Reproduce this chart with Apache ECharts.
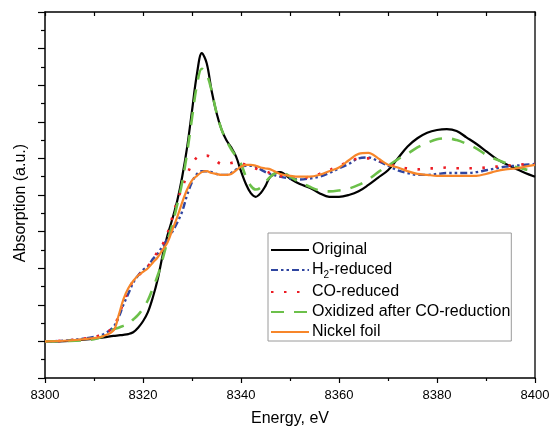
<!DOCTYPE html>
<html>
<head>
<meta charset="utf-8">
<script src="https://cdn.jsdelivr.net/npm/echarts@6/dist/echarts.min.js"></script>
<style>
  html, body { margin: 0; padding: 0; background: #fff; }
  #chart { width: 550px; height: 428px; }
</style>
</head>
<body>
<div id="chart"></div>
<script>
// energy grid, eV
const energy = [8300, 8305, 8310, 8312, 8314,
  8315, 8316, 8317, 8318, 8319, 8320, 8321, 8322, 8323, 8324, 8325, 8326, 8327, 8328, 8329, 8330,
  8331, 8332, 8333, 8334, 8335, 8336, 8337, 8338, 8339, 8340, 8341, 8342, 8343, 8344, 8345, 8346,
  8348, 8350, 8352, 8354, 8356, 8358, 8360, 8362, 8364, 8366, 8368, 8370, 8372, 8374, 8376, 8378,
  8380, 8382, 8384, 8386, 8388, 8390, 8392, 8394, 8396, 8398, 8400];

// normalized absorption
const original = [0, 0.003, 0.015, 0.022, 0.03,
  0.033, 0.036, 0.04, 0.05, 0.075, 0.11, 0.16, 0.24, 0.34, 0.47, 0.58, 0.67, 0.77, 0.90, 1.06, 1.26,
  1.46, 1.575, 1.52, 1.37, 1.25, 1.16, 1.10, 1.06, 1.01, 0.93, 0.86, 0.81, 0.79, 0.81, 0.85, 0.90,
  0.925, 0.89, 0.86, 0.84, 0.81, 0.79, 0.79, 0.80, 0.82, 0.855, 0.895, 0.935, 1.0, 1.065, 1.11, 1.14,
  1.155, 1.16, 1.15, 1.115, 1.08, 1.04, 1.0, 0.97, 0.945, 0.92, 0.90];

const h2Reduced = [0, 0.006, 0.025, 0.04, 0.08,
  0.13, 0.20, 0.26, 0.32, 0.36, 0.39, 0.41, 0.45, 0.48, 0.52, 0.56, 0.60, 0.65, 0.71, 0.80, 0.87,
  0.915, 0.93, 0.93, 0.925, 0.915, 0.91, 0.91, 0.92, 0.94, 0.955, 0.96, 0.96, 0.955, 0.94, 0.925, 0.915,
  0.90, 0.89, 0.885, 0.89, 0.90, 0.92, 0.945, 0.97, 1.0, 1.005, 0.985, 0.96, 0.935, 0.92, 0.91, 0.91,
  0.915, 0.92, 0.92, 0.92, 0.925, 0.935, 0.945, 0.955, 0.96, 0.965, 0.97];

const coReduced = [0, 0.006, 0.025, 0.04, 0.08,
  0.14, 0.21, 0.28, 0.33, 0.36, 0.38, 0.41, 0.45, 0.49, 0.53, 0.59, 0.68, 0.77, 0.84, 0.91, 0.97,
  1.005, 1.015, 1.015, 1.005, 0.985, 0.97, 0.97, 0.975, 0.98, 0.975, 0.965, 0.955, 0.945, 0.935, 0.93, 0.92,
  0.905, 0.89, 0.89, 0.90, 0.915, 0.935, 0.96, 0.98, 1.0, 1.0, 0.99, 0.97, 0.955, 0.945, 0.94, 0.945,
  0.946, 0.95, 0.946, 0.946, 0.946, 0.95, 0.955, 0.96, 0.964, 0.968, 0.97];

const oxidized = [0, 0.003, 0.012, 0.03, 0.065,
  0.075, 0.085, 0.095, 0.12, 0.145, 0.18, 0.225, 0.29, 0.36, 0.45, 0.55, 0.64, 0.75, 0.87, 1.03, 1.22,
  1.40, 1.49, 1.46, 1.37, 1.25, 1.16, 1.10, 1.05, 1.01, 0.97, 0.90, 0.85, 0.83, 0.84, 0.87, 0.90,
  0.93, 0.90, 0.87, 0.845, 0.825, 0.82, 0.825, 0.835, 0.855, 0.885, 0.925, 0.96, 0.995, 1.025, 1.06, 1.085,
  1.105, 1.11, 1.10, 1.08, 1.055, 1.02, 0.995, 0.975, 0.955, 0.94, 0.93];

const nickelFoil = [0, 0.005, 0.018, 0.03, 0.06,
  0.14, 0.23, 0.29, 0.33, 0.36, 0.38, 0.40, 0.43, 0.46, 0.50, 0.54, 0.61, 0.68, 0.76, 0.83, 0.88,
  0.905, 0.925, 0.93, 0.92, 0.915, 0.91, 0.91, 0.915, 0.935, 0.955, 0.965, 0.965, 0.96, 0.95, 0.945, 0.94,
  0.915, 0.905, 0.90, 0.90, 0.91, 0.93, 0.95, 0.99, 1.025, 1.03, 1.0, 0.965, 0.95, 0.93, 0.915, 0.91,
  0.905, 0.905, 0.905, 0.905, 0.905, 0.915, 0.93, 0.94, 0.945, 0.955, 0.965];

const names = ['Original', 'H2-reduced', 'CO-reduced', 'Oxidized after CO-reduction', 'Nickel foil'];

const font = 'Liberation Sans, Arial, sans-serif';

function pairs(vals) {
  return energy.map((e, i) => [e, vals[i]]);
}

function line(name, vals, color, width, dash) {
  return {
    name: name,
    type: 'line',
    data: pairs(vals),
    smooth: 0.35,
    showSymbol: false,
    symbol: 'none',
    animation: false,
    lineStyle: { color: color, width: width, type: dash || 'solid', cap: 'butt' },
    itemStyle: { color: color }
  };
}

const chart = echarts.init(document.getElementById('chart'));
chart.setOption({
  backgroundColor: '#fff',
  animation: false,
  grid: { left: 45, right: 15, top: 12, bottom: 50, outerBoundsMode: 'none', containLabel: false },
  legend: {
    orient: 'vertical',
    left: 268,
    top: 233,
    itemWidth: 38,
    itemHeight: 14,
    itemGap: 4,
    padding: [9, 1, 1, 2],
    borderColor: '#9a9a9a',
    borderWidth: 1,
    backgroundColor: '#fff',
    data: names,
    itemStyle: { opacity: 0 },
    formatter: function (n) {
      if (n === 'H2-reduced') return '{t|H}{s|2}{t|-reduced}';
      return '{t|' + n + '}';
    },
    textStyle: {
      fontFamily: font,
      fontSize: 16,
      color: '#000',
      padding: [0, 0, 0, -2],
      rich: {
        t: { fontFamily: font, fontSize: 16, color: '#000' },
        s: { fontFamily: font, fontSize: 10, color: '#000', verticalAlign: 'bottom', padding: [10, 0, 0, 0] }
      }
    }
  },
  xAxis: [{
    type: 'value',
    min: 8300,
    max: 8400,
    interval: 20,
    name: 'Energy, eV',
    nameLocation: 'middle',
    nameGap: 33,
    nameTextStyle: { fontFamily: font, fontSize: 16, color: '#000' },
    axisLine: { onZero: false, lineStyle: { color: '#000', width: 1.5 } },
    axisTick: { inside: false, length: 5, lineStyle: { color: '#000', width: 1.2 } },
    minorTick: { show: true, splitNumber: 2, length: 3, lineStyle: { color: '#000', width: 1.2 } },
    axisLabel: { fontFamily: font, fontSize: 13, color: '#000', margin: 11, formatter: v => String(v) },
    splitLine: { show: false }
  }, {
    type: 'value',
    position: 'top',
    min: 8300,
    max: 8400,
    interval: 20,
    axisLine: { show: true, onZero: false, lineStyle: { color: '#000', width: 1.5 } },
    axisTick: { inside: true, length: 4, lineStyle: { color: '#000', width: 1.2 } },
    minorTick: { show: true, splitNumber: 2, length: 4, lineStyle: { color: '#000', width: 1.2 } },
    axisLabel: { show: false },
    splitLine: { show: false }
  }],
  yAxis: [{
    type: 'value',
    min: -0.2,
    max: 1.8,
    interval: 0.2,
    name: 'Absorption (a.u.)',
    nameLocation: 'middle',
    nameGap: 16,
    nameTextStyle: { fontFamily: font, fontSize: 16, color: '#000', padding: [0, 16, 0, 0] },
    axisLine: { show: true, onZero: false, lineStyle: { color: '#000', width: 1.5 } },
    axisTick: { inside: false, length: 7, lineStyle: { color: '#000', width: 1.2 } },
    minorTick: { show: true, splitNumber: 2, length: 4, lineStyle: { color: '#000', width: 1.2 } },
    axisLabel: { show: false },
    splitLine: { show: false }
  }, {
    type: 'value',
    position: 'right',
    min: -0.2,
    max: 1.8,
    interval: 0.2,
    axisLine: { show: true, onZero: false, lineStyle: { color: '#222', width: 1.5 } },
    axisTick: { show: false },
    axisLabel: { show: false },
    splitLine: { show: false }
  }],
  series: [
    line(names[0], original, '#000000', 2.2),
    line(names[1], h2Reduced, '#2f45a0', 2.4, [7, 3, 2.5, 3, 2.5, 3]),
    line(names[2], coReduced, '#ec1c24', 2.6, [2.5, 10.5]),
    line(names[3], oxidized, '#6cc04a', 2.6, [13, 10]),
    line(names[4], nickelFoil, '#f7862a', 2.2)
  ]
});
</script>
</body>
</html>
